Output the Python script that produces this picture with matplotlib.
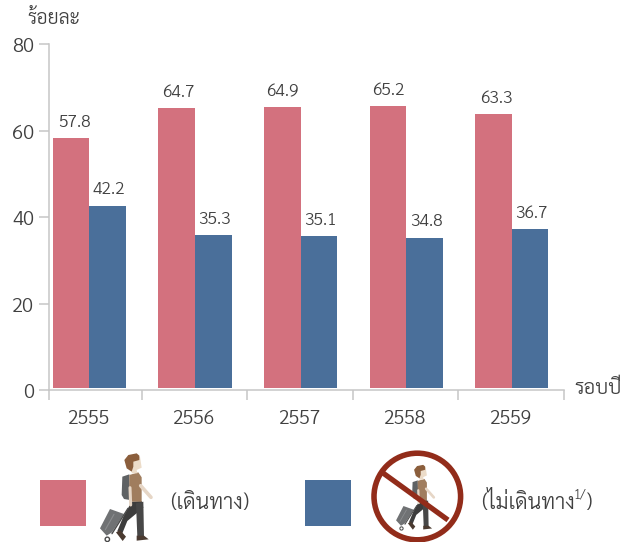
import numpy as np
import matplotlib
matplotlib.use("Agg")
import matplotlib.pyplot as plt
from matplotlib.patches import Polygon, Circle, Rectangle
from matplotlib.transforms import ScaledTranslation

plt.rcParams['font.family'] = ['Sarabun', 'DejaVu Sans']
plt.rcParams['font.weight'] = 300

years = ["2555", "2556", "2557", "2558", "2559"]
travel = [57.8, 64.7, 64.9, 65.2, 63.3]
no_travel = [42.2, 35.3, 35.1, 34.8, 36.7]
y_ticks = [0, 20, 40, 60, 80]

PINK = "#d3717e"
BLUE = "#4a6f9a"
TEXT = "#404040"
AXIS = "#c6c6c6"
W, H = 634, 542


def draw_person(ax, dx, dy, s):
    # outline taken from the zoomed crop, then moved and scaled
    def put(pts):
        return [(dx + s * x / 3, dy + s * y / 3) for x, y in pts]

    def poly(pts, color):
        ax.add_patch(Polygon(put(pts), closed=True, fc=color, ec="none"))

    def limb(pts, color, w):
        p = np.array(put(pts))
        ax.plot(p[:, 0], p[:, 1], color=color, lw=w * s, solid_capstyle="round")

    # suitcase
    poly([(60, 192), (102, 207), (66, 262), (50, 272), (30, 250)], "#707274")
    limb([(72, 208), (46, 254)], "#8a8c8e", 0.8)
    limb([(114, 190), (66, 266)], "#4a4a4a", 1.0)
    ax.add_patch(Circle(put([(52, 283)])[0], 2.2 * s, fc="white", ec="#4a4a4a", lw=1.0 * s))
    # back leg, front leg, shoes
    poly([(125, 170), (155, 168), (160, 188), (112, 228), (97, 265), (82, 258), (100, 215)], "#3d3d3d")
    poly([(138, 175), (160, 170), (162, 275), (142, 275)], "#474747")
    poly([(78, 262), (90, 255), (108, 275), (98, 288)], "#4a3a30")
    poly([(140, 272), (162, 272), (176, 283), (140, 287)], "#4a3a30")
    # backpack, shirt, arms
    poly([(97, 95), (118, 88), (120, 165), (102, 162), (95, 150)], "#5f6264")
    limb([(152, 122), (183, 157)], "#e6d6c6", 2.6)
    poly([(118, 90), (145, 82), (155, 97), (155, 170), (122, 170), (118, 130)], "#a07d5e")
    limb([(120, 128), (122, 180)], "#e6d6c6", 2.2)
    # face and hair
    poly([(128, 40), (150, 35), (155, 68), (140, 75), (142, 85), (125, 85)], "#ecdcc9")
    poly([(103, 45), (115, 30), (140, 25), (148, 32), (148, 45), (130, 50), (130, 65), (125, 80), (110, 70)], "#8b5e3c")


fig = plt.figure(figsize=(W / 100, H / 100), dpi=100)
ax = fig.add_axes([49.3 / W, (H - 390.3) / H, (564 - 49.3) / W, (390.3 - 44.5) / H])

x = np.arange(len(years))
bar_w = 0.347
gap = 0.53  # bars stop a little above the axis line
ax.bar(x - bar_w / 2 - 0.005, travel, bar_w, bottom=gap, color=PINK)
ax.bar(x + bar_w / 2 - 0.005, no_travel, bar_w, bottom=gap, color=BLUE)

label_dx = [3, 1, 0, 0, 2]
for i in range(len(years)):
    ax.annotate(f"{travel[i]:.1f}", (x[i] - bar_w / 2, travel[i] + gap), xytext=(label_dx[i] * 0.72, 11.5),
                textcoords="offset points", ha="center", va="center", fontsize=12.5, color=TEXT)
    ax.annotate(f"{no_travel[i]:.1f}", (x[i] + bar_w / 2, no_travel[i] + gap), xytext=(0.7, 11.5),
                textcoords="offset points", ha="center", va="center", fontsize=12.5, color=TEXT)

ax.set_xlim(-0.385, 4.49)
ax.set_ylim(0, 80)
ax.set_yticks(y_ticks)
ax.set_xticks(x)
ax.set_xticklabels(years)
ax.set_xticks([-0.385] + [i + 0.49 for i in x], minor=True)
for s in ["top", "right"]:
    ax.spines[s].set_visible(False)
for s in ["left", "bottom"]:
    ax.spines[s].set_color(AXIS)
    ax.spines[s].set_linewidth(1.1)
ax.tick_params(axis="y", length=7.2, width=1.1, color=AXIS, labelcolor=TEXT, labelsize=14.5, pad=3.5)
ax.tick_params(axis="x", which="major", length=0, labelcolor=TEXT, labelsize=14, pad=14)
ax.tick_params(axis="x", which="minor", length=7.4, width=1.1, color=AXIS)
# year labels sit slightly left of the group centres
shift = ScaledTranslation(-2 / 100, 0, fig.dpi_scale_trans)
for lab in ax.get_xticklabels():
    lab.set_transform(lab.get_transform() + shift)
# y labels sit slightly below the ticks
shift_y = ScaledTranslation(0, -1 / 100, fig.dpi_scale_trans)
for lab in ax.get_yticklabels():
    lab.set_transform(lab.get_transform() + shift_y)

# overlay in pixel coordinates for the free texts and the legend
ov = fig.add_axes([0, 0, 1, 1], zorder=5)
ov.set_xlim(0, W)
ov.set_ylim(H, 0)
ov.axis("off")

ov.text(54, 19, "ร้อยละ", ha="center", va="center", fontsize=14, color=TEXT)
ov.text(598, 388, "รอบปี", ha="center", va="center", fontsize=14.5, color=TEXT)

ov.add_patch(Rectangle((40, 480), 46, 46, fc=PINK, ec="none"))
ov.add_patch(Rectangle((305, 480), 46, 46, fc=BLUE, ec="none"))

draw_person(ov, 90, 445, 1.0)
draw_person(ov, 365 + 71 / 3, 445 + 41 / 3, 0.74)

ban = "#922c1a"
ov.add_patch(Circle((417.3, 496.5), 43.3, fc="none", ec=ban, lw=4.0))
ov.plot([383, 448], [473, 520], color=ban, lw=3.8, solid_capstyle="butt")

ov.text(210, 503, "(เดินทาง)", ha="center", va="center", fontsize=15.5, color=TEXT)
ov.text(481, 503, "(ไม่เดินทาง", ha="left", va="center", fontsize=15.5, color=TEXT)
ov.text(580, 495, "1/", ha="center", va="center", fontsize=9.5, color=TEXT)
ov.text(592, 503, ")", ha="right", va="center", fontsize=15.5, color=TEXT)

fig.savefig("out.png", dpi=100)
